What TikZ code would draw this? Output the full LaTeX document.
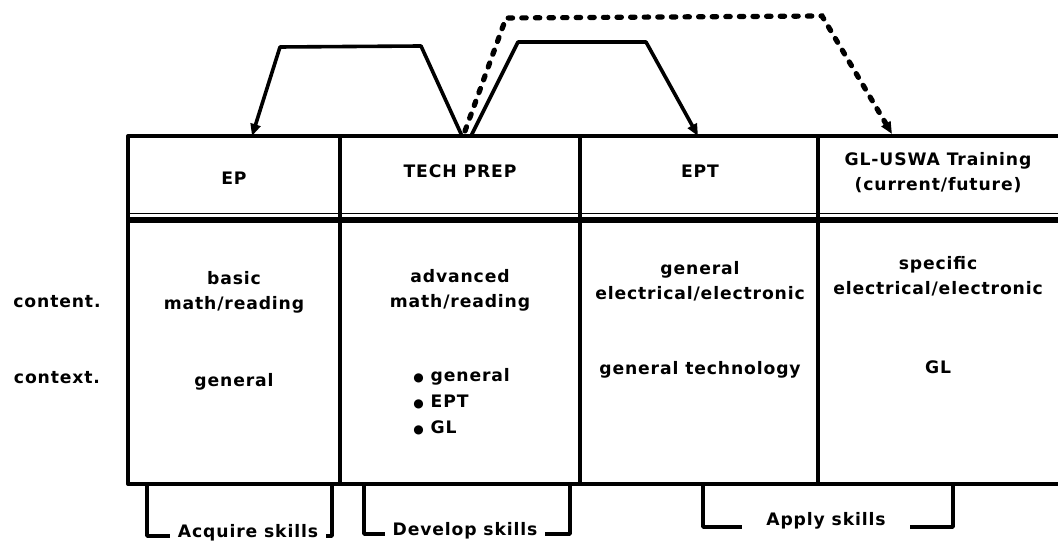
\documentclass[tikz,border=0pt]{standalone}
\usepackage{fontspec}
\setmainfont{DejaVu Sans}[LetterSpace=5]
\usetikzlibrary{arrows.meta}
\begin{document}
\begin{tikzpicture}[x=0.5pt,y=-0.5pt,
  tbl/.style={line width=2pt, line join=round},
  conn/.style={line width=1.8pt, line join=round, -{Triangle[length=6pt,width=5pt]}},
  dconn/.style={line width=2.6pt, line cap=round, dash pattern=on 2.2pt off 4.6pt, -{Triangle[length=6pt,width=5pt]}},
  brk/.style={line width=1.8pt, line join=round},
  txt/.style={font=\bfseries\fontsize{8.6}{12.5}\selectfont, align=center, inner sep=1pt},
  lbl/.style={txt, fill=white, inner sep=4pt}]
\useasboundingbox (0,0) rectangle (1058,544);

% table
\draw[tbl] (1058,136) -- (128,136) -- (128,484) -- (1058,484);
\draw[tbl] (340,136) -- (340,484);
\draw[tbl] (580,136) -- (580,484);
\draw[tbl] (818,136) -- (818,484);
\draw[line width=2.6pt] (128,220) -- (1058,220);
\draw[line width=0.6pt] (128,213.5) -- (1058,213.5);

% headers
\node[txt] (h1) at (234,178) {EP};
\node[txt] (h2) at (460,171) {TECH PREP};
\node[txt] (h3) at (700,171) {EPT};
\node[txt] (h4) at (938,173) {GL-USWA Training\\(current/future)};

% row labels
\node[txt] (rcontent) at (57,302) {content.};
\node[txt] (rcontext) at (57,378) {context.};

% body
\node[txt] (c1) at (234,292) {basic\\math/reading};
\node[txt] (c2) at (460,290) {advanced\\math/reading};
\node[txt] (c3) at (700,281) {general\\electrical/electronic};
\node[txt] (c4) at (938,276) {specific\\electrical/electronic};
\node[txt] (x1) at (234,382) {general};
\node[txt, align=left, anchor=north west, font=\bfseries\fontsize{8.6}{13}\selectfont] (x2) at (411,366) {{\fontsize{6}{6}\selectfont●}\ general\\{\fontsize{6}{6}\selectfont●}\ EPT\\{\fontsize{6}{6}\selectfont●}\ GL};
\node[txt] (x3) at (700,370) {general technology};
\node[txt] (x4) at (938,367) {GL};

% connector anchors
\coordinate (epIn) at (252,136);
\coordinate (tpOut1) at (462,136);
\coordinate (tpOut2) at (471,136);
\coordinate (tpOut3) at (465,131);
\coordinate (eptIn) at (698,136);
\coordinate (glIn) at (892,134);
\coordinate (s1a) at (421,46);
\coordinate (s1b) at (280,47);
\coordinate (s2a) at (518,42);
\coordinate (s2b) at (646,42);
\coordinate (d1) at (506,18);
\coordinate (d2) at (822,16);

\draw[conn] (tpOut1) -- (s1a) -- (s1b) -- (epIn);
\draw[conn] (tpOut2) -- (s2a) -- (s2b) -- (eptIn);
\draw[dconn] (tpOut3) -- (d1) -- (d2) -- (glIn);

% brackets
\coordinate (a1) at (147,484);
\coordinate (a2) at (332,484);
\draw[brk] (a1) -- (147,536) -- (332,536) -- (a2);
\node[lbl] (acq) at (248,533) {Acquire skills};

\coordinate (b1) at (364,484);
\coordinate (b2) at (570,484);
\draw[brk] (b1) -- (364,534) -- (570,534) -- (b2);
\node[lbl] (dev) at (465,531) {Develop skills};

\coordinate (p1) at (703,484);
\coordinate (p2) at (953,484);
\draw[brk] (p1) -- (703,527) -- (953,527) -- (p2);
\node[lbl, inner xsep=12pt] (app) at (826,521) {Apply skills};
\end{tikzpicture}
\end{document}
